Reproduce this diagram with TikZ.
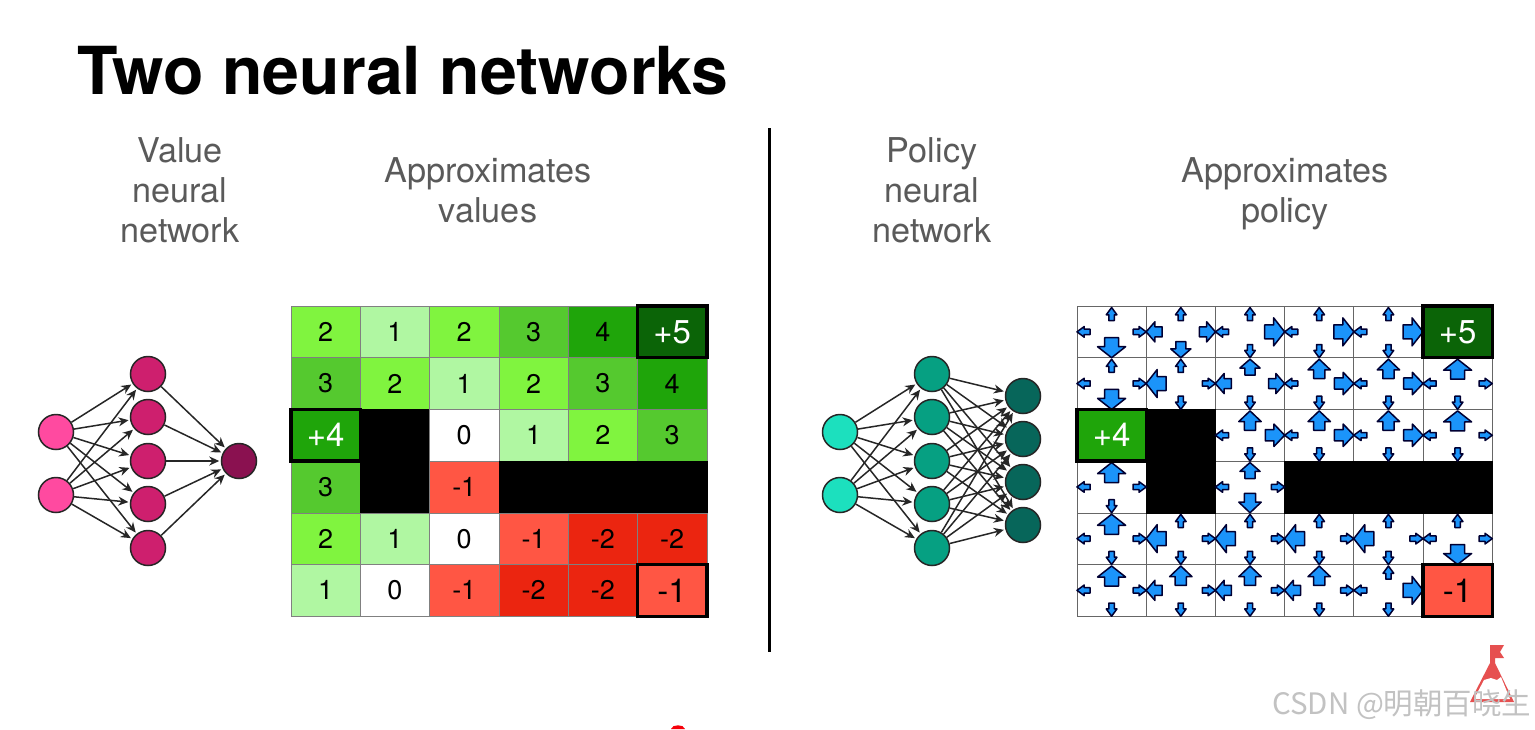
\documentclass[tikz,border=0pt]{standalone}
\usepackage{fontspec}
\setmainfont{TeX Gyre Heros}
\newfontfamily\cjk{Noto Sans CJK SC}
\usetikzlibrary{arrows.meta}
\definecolor{toneA}{HTML}{0B6407}
\definecolor{toneB}{HTML}{1FA50A}
\definecolor{toneC}{HTML}{55C92F}
\definecolor{toneD}{HTML}{80F43F}
\definecolor{toneE}{HTML}{B0F7A2}
\definecolor{toneF}{HTML}{FF5644}
\definecolor{toneG}{HTML}{EB2510}
\definecolor{valueIn}{HTML}{FF4AA0}
\definecolor{valueMid}{HTML}{CE1F6E}
\definecolor{valueOut}{HTML}{8A1150}
\definecolor{policyIn}{HTML}{1CE0BE}
\definecolor{policyMid}{HTML}{06A082}
\definecolor{policyOut}{HTML}{07665A}
\definecolor{blockBlue}{HTML}{1B94FA}
\definecolor{labelGray}{HTML}{5A5A5A}
\definecolor{logoRed}{HTML}{E65050}
\begin{document}
\begin{tikzpicture}
[x=1pt,y=-1pt,%
  netNode/.style={shape=circle,minimum size=35pt,inner sep=0pt,draw=black!85,line width=1.5pt},%
  netArrow/.style={-{Stealth[length=10pt,width=9pt]},line width=1.5pt,black!85,shorten >=1.5pt},%
  cellBox/.style={shape=rectangle,minimum width=69.3pt,minimum height=51.7pt,inner sep=0pt,outer sep=0pt,draw=black!50,line width=.6pt,font=\fontsize{27}{29}\selectfont},%
  goalBox/.style={cellBox,draw=black,line width=3.4pt,font=\fontsize{33}{35}\selectfont},%
  headLabel/.style={align=center,text=labelGray,font=\fontsize{34.2}{40}\selectfont},%
  tonea/.style={fill=toneA,text=white},toneb/.style={fill=toneB},tonec/.style={fill=toneC},%
  toned/.style={fill=toneD},tonee/.style={fill=toneE},tonew/.style={fill=white},%
  tonef/.style={fill=toneF},toneg/.style={fill=toneG},tonek/.style={fill=black,draw=black},%
  arrs/.style={xscale=.66,yscale=.38},arrm/.style={xscale=.8,yscale=.72},%
  arrl/.style={xscale=.97,yscale=.8},arrb/.style={xscale=1,yscale=1},%
  blockArrow/.pic={\filldraw[fill=blockBlue,draw=black!80!blue,line width=1.5pt,line join=round]
    (0,0) -- (-11,14) -- (-11,7) -- (-20,7) -- (-20,-7) -- (-11,-7) -- (-11,-14) -- cycle;}]
\useasboundingbox (0,0) rectangle (1535,729);
\fill[white] (0,0) rectangle (1535,729);
%% title and headings
\node (title) [anchor=base west,inner sep=0pt,font=\fontsize{66.2}{70}\selectfont\bfseries] at (77,94) {Two neural networks};
\node (valueHead) [headLabel] at (180,190) {Value\\neural\\network};
\node (valueGoal) [headLabel] at (488,190) {Approximates\\values};
\node (policyHead) [headLabel] at (932,190) {Policy\\neural\\network};
\node (policyGoal) [headLabel] at (1285,194) {Approximates\\policy};
\draw[line width=3pt] (769,128) -- (769,652);
%% value network
\foreach \nodename/\x/\y/\tone in {
  vi1/56/432/valueIn, vi2/56/495/valueIn,
  vh1/148/374/valueMid, vh2/148/417/valueMid, vh3/148/461/valueMid, vh4/148/504/valueMid, vh5/148/548/valueMid,
  vo1/239/461/valueOut}
{
  \node (\nodename) at (\x,\y) [netNode,fill=\tone] {};
}
\foreach \startnode in {vi1,vi2}
  \foreach \endnode in {vh1,vh2,vh3,vh4,vh5}
    \draw[netArrow] (\startnode) -- (\endnode);
\foreach \startnode in {vh1,vh2,vh3,vh4,vh5}
  \draw[netArrow] (\startnode) -- (vo1);
%% policy network
\foreach \nodename/\x/\y/\tone in {
  pi1/840/432/policyIn, pi2/840/495/policyIn,
  ph1/932/374/policyMid, ph2/932/417/policyMid, ph3/932/461/policyMid, ph4/932/504/policyMid, ph5/932/548/policyMid,
  po1/1023/396/policyOut, po2/1023/439/policyOut, po3/1023/482/policyOut, po4/1023/525/policyOut}
{
  \node (\nodename) at (\x,\y) [netNode,fill=\tone] {};
}
\foreach \startnode in {pi1,pi2}
  \foreach \endnode in {ph1,ph2,ph3,ph4,ph5}
    \draw[netArrow] (\startnode) -- (\endnode);
\foreach \startnode in {ph1,ph2,ph3,ph4,ph5}
  \foreach \endnode in {po1,po2,po3,po4}
    \draw[netArrow] (\startnode) -- (\endnode);
%% value grid
\foreach \r/\vals in {
  0/{d/2,e/1,d/2,c/3,b/4,a/{}},
  1/{c/3,d/2,e/1,d/2,c/3,b/4},
  2/{b/{},k/{},w/0,e/1,d/2,c/3},
  3/{c/3,k/{},f/-1,k/{},k/{},k/{}},
  4/{d/2,e/1,w/0,f/-1,g/-2,g/-2},
  5/{e/1,w/0,f/-1,g/-2,g/-2,f/{}}}
{
  \foreach \tone/\txt [count=\c from 0] in \vals
    \node (v\c\r) at ({291+69.3*(\c+.5)},{306+51.7*(\r+.5)}) [cellBox,tone\tone] {\txt};
}
\node (vGoalA) at (v50) [goalBox,tonea] {+5};
\node (vGoalB) at (v02) [goalBox,toneb,text=white] {+4};
\node (vGoalC) at (v55) [goalBox,tonef] {-1};
%% policy grid
\foreach \r in {0,...,5}
  \foreach \c in {0,...,5}
    \node (p\c\r) at ({1077+69.2*(\c+.5)},{306+51.7*(\r+.5)}) [cellBox,fill=white,draw=black!60] {};
\foreach \c/\r in {1/2, 1/3, 3/3, 4/3, 5/3}
  \node (w\c\r) at (p\c\r) [cellBox,tonek] {};
%% arrows of each cell: north, south, west, east
\foreach \c/\r/\north/\south/\west/\east in {
  0/0/s/b/s/s, 1/0/s/m/m/m, 2/0/s/s/s/b, 3/0/s/s/s/b, 4/0/s/s/s/b,
  0/1/s/b/s/s, 1/1/s/s/b/s, 2/1/m/s/m/m, 3/1/l/s/s/l, 4/1/l/s/s/l, 5/1/b/s/s/s,
  2/2/l/s/s/l, 3/2/l/s/s/l, 4/2/l/s/s/l, 5/2/b/s/s/s,
  0/3/b/s/s/s, 2/3/m/l/s/s,
  0/4/b/s/s/s, 1/4/s/s/b/s, 2/4/s/s/b/s, 3/4/s/s/b/s, 4/4/s/s/b/s, 5/4/s/b/s/s,
  0/5/b/s/s/s, 1/5/l/s/m/s, 2/5/l/s/m/s, 3/5/l/s/m/s, 4/5/s/s/s/b}
{
  \pic[rotate=90,arr\north] at ([yshift=-1.5pt]p\c\r.north) {blockArrow};
  \pic[rotate=-90,arr\south] at (p\c\r.south) {blockArrow};
  \pic[rotate=180,arr\west] at (p\c\r.west) {blockArrow};
  \pic[arr\east] at (p\c\r.east) {blockArrow};
}
\node (pGoalA) at (p50) [goalBox,tonea] {+5};
\node (pGoalB) at (p02) [goalBox,toneb,text=white] {+4};
\node (pGoalC) at (p55) [goalBox,tonef] {-1};
%% logo and footer
\fill[logoRed] (1490,645) -- (1504,645) -- (1500,652) -- (1504,658) -- (1495,658) -- (1495,663)
  -- (1514,702) -- (1470,702) -- (1490,663) -- cycle;
\fill[white] (1484,680) -- (1491,678) -- (1497,680) -- (1501,677) -- (1510,699) -- (1474,699) -- cycle;
\fill[red!85!purple] (671,729) .. controls (672,724) and (684,724) .. (685,729) -- cycle;
\node (footer) [anchor=base west,inner sep=0pt,text=black!24,font=\cjk\fontsize{29.5}{31}\selectfont] at (1272,714) {CSDN @明朝百晓生};
\end{tikzpicture}
\end{document}
